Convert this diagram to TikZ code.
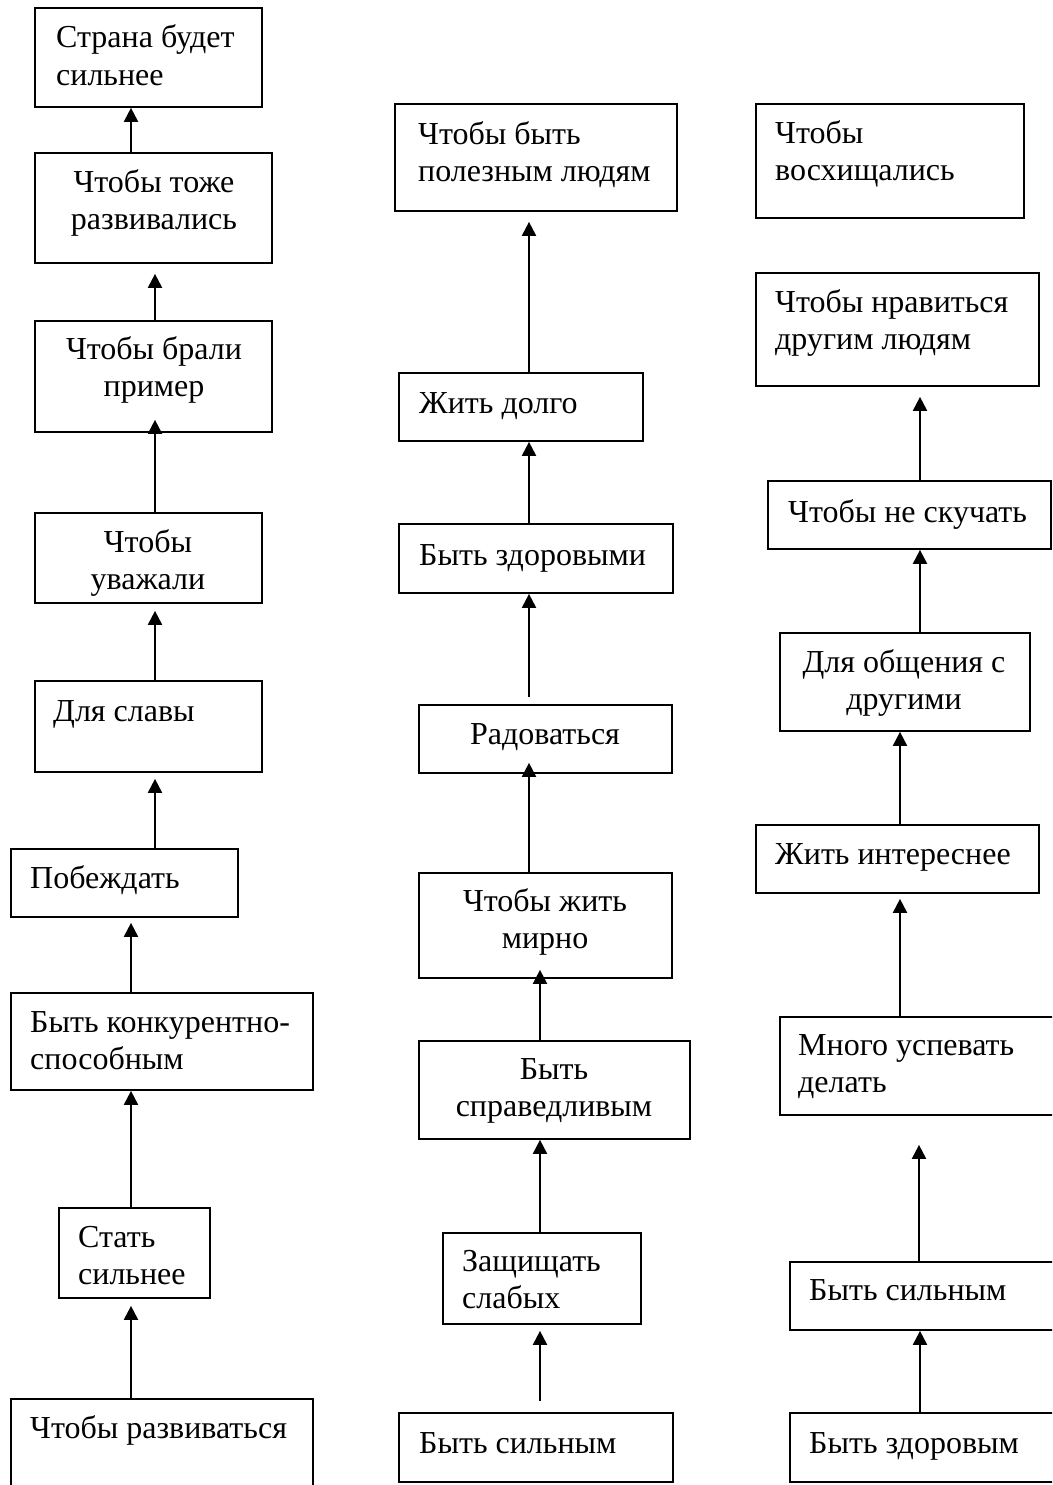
\documentclass[tikz,border=0pt]{standalone}
\usepackage{fontspec}
\setmainfont{Liberation Serif}
\usetikzlibrary{fit,arrows.meta}
\newcommand\lineL[2]{\vtop{\baselineskip=37.5pt\hbox{#1}\hbox{#2}}}
\newcommand\lineC[2]{\vtop{\baselineskip=37.5pt\halign{\hfil##\hfil\cr#1\cr#2\cr}}}
\begin{document}
\begin{tikzpicture}[x=1pt,y=-1pt,
  box/.style={draw, line width=1.7pt, inner sep=0pt, rectangle},
  lbl/.style={inner sep=0pt, font=\fontsize{32pt}{37.5pt}\selectfont},
  lt/.style={lbl, anchor=base west},
  ct/.style={lbl, anchor=base},
  arr/.style={line width=2pt, -{Triangle[length=14pt,width=14pt]}}]
\fill[white] (0,0) rectangle (1052,1485);
\clip (0,0) rectangle (1052,1485);

% column 1
\node[box, fit={(35,8) (262,107)}] (B1) {};
\node[box, fit={(35,153) (272,263)}] (B2) {};
\node[box, fit={(35,321) (272,432)}] (B3) {};
\node[box, fit={(35,513) (262,603)}] (B4) {};
\node[box, fit={(35,681) (262,772)}] (B5) {};
\node[box, fit={(11,849) (238,917)}] (B6) {};
\node[box, fit={(11,993) (313,1090)}] (B7) {};
\node[box, fit={(59,1208) (210,1298)}] (B8) {};
\node[box, fit={(11,1399) (313,1540)}] (B9) {};

\node[lt] (tB1) at (56,48) {\lineL{Страна будет}{сильнее}};
\node[ct] (tB2) at (154,192) {\lineC{Чтобы тоже}{развивались}};
\node[ct] (tB3) at (154,359) {\lineC{Чтобы брали}{пример}};
\node[ct] (tB4) at (148,552) {\lineC{Чтобы}{уважали}};
\node[lt] (tB5) at (53,721) {Для славы};
\node[lt] (tB6) at (30,888) {Побеждать};
\node[lt] (tB7) at (30,1032) {\lineL{Быть конкурентно-}{способным}};
\node[lt] (tB8) at (78,1247) {\lineL{Стать}{сильнее}};
\node[lt] (tB9) at (30,1438) {Чтобы развиваться};

% column 2
\node[box, fit={(395,104) (677,211)}] (C1) {};
\node[box, fit={(399,373) (643,441)}] (C2) {};
\node[box, fit={(399,524) (673,593)}] (C3) {};
\node[box, fit={(419,705) (672,773)}] (C4) {};
\node[box, fit={(419,873) (672,978)}] (C5) {};
\node[box, fit={(419,1041) (690,1139)}] (C6) {};
\node[box, fit={(443,1233) (641,1324)}] (C7) {};
\node[box, fit={(399,1413) (673,1482)}] (C8) {};

\node[lt] (tC1) at (418,144) {\lineL{Чтобы быть}{полезным людям}};
\node[lt] (tC2) at (419,413) {Жить долго};
\node[lt] (tC3) at (419,565) {Быть здоровыми};
\node[ct] (tC4) at (545,744) {Радоваться};
\node[ct] (tC5) at (545,911) {\lineC{Чтобы жить}{мирно}};
\node[ct] (tC6) at (554,1079) {\lineC{Быть}{справедливым}};
\node[lt] (tC7) at (462,1271) {\lineL{Защищать}{слабых}};
\node[lt] (tC8) at (419,1453) {Быть сильным};

% column 3
\node[box, fit={(756,104) (1024,218)}] (D1) {};
\node[box, fit={(756,273) (1039,386)}] (D2) {};
\node[box, fit={(768,481) (1051,549)}] (D3) {};
\node[box, fit={(780,633) (1030,731)}] (D4) {};
\node[box, fit={(756,825) (1039,893)}] (D5) {};
\node[box, fit={(780,1017) (1070,1115)}] (D6) {};
\node[box, fit={(790,1262) (1070,1330)}] (D7) {};
\node[box, fit={(790,1413) (1070,1482)}] (D8) {};

\node[lt] (tD1) at (775,143) {\lineL{Чтобы}{восхищались}};
\node[lt] (tD2) at (775,312) {\lineL{Чтобы нравиться}{другим людям}};
\node[lt] (tD3) at (788,522) {Чтобы не скучать};
\node[ct] (tD4) at (904,672) {\lineC{Для общения с}{другими}};
\node[lt] (tD5) at (775,864) {Жить интереснее};
\node[lt] (tD6) at (798,1055) {\lineL{Много успевать}{делать}};
\node[lt] (tD7) at (809,1300) {Быть сильным};
\node[lt] (tD8) at (809,1453) {Быть здоровым};

% arrows column 1
\draw[arr] (B2.north -| 131,0) -- (B1.south -| 131,0);
\draw[arr, shorten >=10pt] (B3.north -| 155,0) -- (B2.south -| 155,0);
\draw[arr, shorten >=-13pt] (B4.north -| 155,0) -- (B3.south -| 155,0);
\draw[arr, shorten >=7pt] (B5.north -| 155,0) -- (B4.south -| 155,0);
\draw[arr, shorten >=6pt] (B6.north -| 155,0) -- (B5.south -| 155,0);
\draw[arr, shorten >=5pt] (B7.north -| 131,0) -- (B6.south -| 131,0);
\draw[arr] (B8.north -| 131,0) -- (B7.south -| 131,0);
\draw[arr, shorten >=7pt] (B9.north -| 131,0) -- (B8.south -| 131,0);

% arrows column 2
\draw[arr, shorten >=10pt] (C2.north -| 529,0) -- (C1.south -| 529,0);
\draw[arr] (C3.north -| 529,0) -- (C2.south -| 529,0);
\draw[arr, shorten <=7pt] (C4.north -| 529,0) -- (C3.south -| 529,0);
\draw[arr, shorten >=-11pt] (C5.north -| 529,0) -- (C4.south -| 529,0);
\draw[arr, shorten >=-9pt] (C6.north -| 540,0) -- (C5.south -| 540,0);
\draw[arr] (C7.north -| 540,0) -- (C6.south -| 540,0);
\draw[arr, shorten <=11pt, shorten >=6pt] (C8.north -| 540,0) -- (C7.south -| 540,0);

% arrows column 3
\draw[arr, shorten >=10pt] (D3.north -| 920,0) -- (D2.south -| 920,0);
\draw[arr] (D4.north -| 920,0) -- (D3.south -| 920,0);
\draw[arr] (D5.north -| 900,0) -- (D4.south -| 900,0);
\draw[arr, shorten >=5pt] (D6.north -| 900,0) -- (D5.south -| 900,0);
\draw[arr, shorten >=29pt] (D7.north -| 919,0) -- (D6.south -| 919,0);
\draw[arr] (D8.north -| 920,0) -- (D7.south -| 920,0);
\end{tikzpicture}
\end{document}
